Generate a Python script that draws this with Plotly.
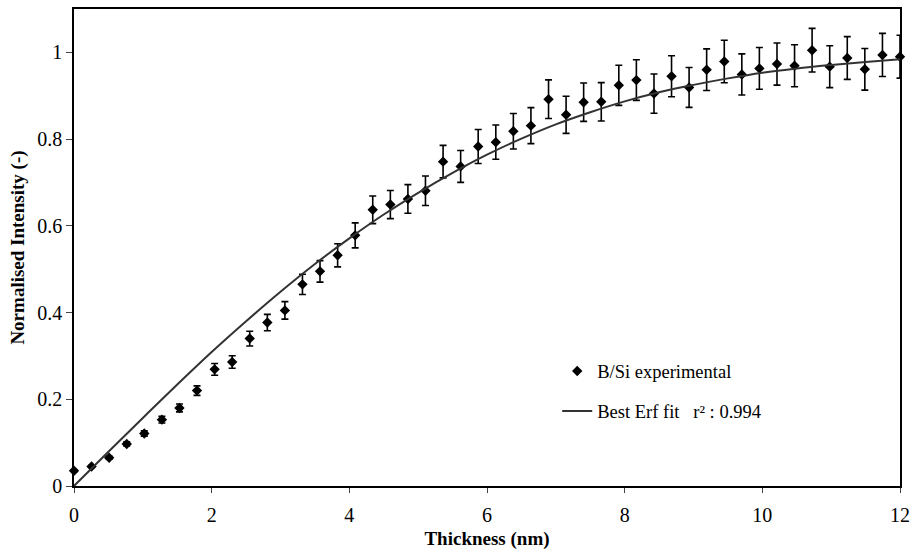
import plotly.graph_objects as go

# Experimental data (thickness in nm, normalised intensity)
thickness = [0.0, 0.255, 0.511, 0.766, 1.021, 1.277, 1.532, 1.787, 2.043, 2.298,
             2.553, 2.809, 3.064, 3.319, 3.574, 3.830, 4.085, 4.340, 4.596, 4.851,
             5.106, 5.362, 5.617, 5.872, 6.128, 6.383, 6.638, 6.894, 7.149, 7.404,
             7.660, 7.915, 8.170, 8.426, 8.681, 8.936, 9.191, 9.447, 9.702, 9.957,
             10.213, 10.468, 10.723, 10.979, 11.234, 11.489, 11.745, 12.0]
intensity = [0.035, 0.045, 0.065, 0.097, 0.121, 0.153, 0.180, 0.220, 0.269, 0.286,
             0.340, 0.377, 0.405, 0.465, 0.495, 0.532, 0.578, 0.637, 0.649, 0.662,
             0.681, 0.748, 0.737, 0.783, 0.793, 0.818, 0.831, 0.892, 0.856, 0.885,
             0.886, 0.924, 0.936, 0.905, 0.945, 0.919, 0.960, 0.979, 0.949, 0.963,
             0.973, 0.969, 1.005, 0.967, 0.987, 0.961, 0.994, 0.990]
error_percent = 5

# Best Erf fit curve
fit_x = [0, 0.5, 1, 1.5, 2, 2.5, 3, 3.5, 4, 4.5, 5, 5.5, 6, 6.5, 7, 7.5, 8,
         8.5, 9, 9.5, 10, 10.5, 11, 11.5, 12]
fit_y = [0.0, 0.079, 0.157, 0.234, 0.309, 0.380, 0.448, 0.512, 0.571, 0.626,
         0.676, 0.722, 0.764, 0.801, 0.834, 0.862, 0.887, 0.908, 0.925, 0.940,
         0.953, 0.963, 0.971, 0.978, 0.984]

x_ticks = [0, 2, 4, 6, 8, 10, 12]
y_ticks = [0, 0.2, 0.4, 0.6, 0.8, 1]
y_tick_labels = ["0", "0.2", "0.4", "0.6", "0.8", "1"]

FONT = "Liberation Serif, Times New Roman, serif"

fig = go.Figure()
fig.add_trace(go.Scatter(
    x=thickness, y=intensity, mode="markers",
    name="B/Si experimental",
    marker=dict(symbol="diamond", size=8, color="black"),
    error_y=dict(type="percent", value=error_percent, color="black",
                 thickness=1.6, width=3.5),
    cliponaxis=False, legendgroup="a",
))
fig.add_trace(go.Scatter(
    x=fit_x, y=fit_y, mode="lines",
    name="Best Erf fit\u00a0\u00a0\u00a0r\u00b2 : 0.994",
    line=dict(color="#333333", width=2, shape="spline"),
    legendgroup="b",
))

fig.update_layout(
    width=910, height=550,
    paper_bgcolor="white", plot_bgcolor="white",
    margin=dict(l=74, r=10, t=9, b=64),
    font=dict(family=FONT, size=20, color="black"),
    showlegend=True,
    legend=dict(x=0.585, y=0.28, xanchor="left", yanchor="top",
                bgcolor="rgba(0,0,0,0)", font=dict(size=18.5, family=FONT),
                tracegroupgap=13, itemwidth=30),
    xaxis=dict(range=[0, 12], tickvals=x_ticks, ticks="outside", ticklen=5,
               tickwidth=1.2, showline=True, linecolor="black", linewidth=1.5,
               mirror=True, showgrid=False, zeroline=False, automargin=False,
               ticklabelstandoff=5,
               title=dict(text="<b>Thickness (nm)</b>", font=dict(size=19, family=FONT),
                          standoff=8)),
    yaxis=dict(range=[0, 1.1], tickvals=y_ticks, ticktext=y_tick_labels,
               ticks="outside", ticklen=6, tickwidth=1.2,
               showline=True, linecolor="black", linewidth=1.5,
               mirror=True, showgrid=False, zeroline=False, automargin=False,
               title=dict(text="<b>Normalised Intensity (-)</b>",
                          font=dict(size=19, family=FONT), standoff=8)),
)

fig.write_html("out.html", config={"displayModeBar": False},
               post_script="document.body.style.margin='0';document.body.style.padding='0';")
